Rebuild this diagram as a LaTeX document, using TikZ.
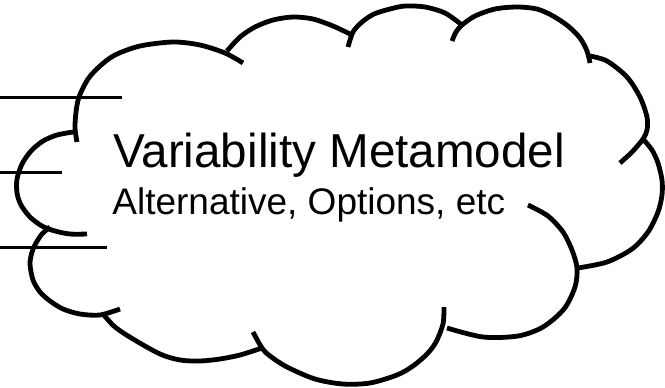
\documentclass[tikz,border=0pt]{standalone}
\usepackage{fontspec}
\setmainfont{Liberation Sans}
\begin{document}
\begin{tikzpicture}[x=0.5pt,y=-0.5pt,
  lobe/.style={line width=2.4pt, line join=round},
  link/.style={line width=1.5pt},
  titletext/.style={anchor=base west, inner sep=0pt, font=\fontsize{23.8}{28}\selectfont},
  subtext/.style={anchor=base west, inner sep=0pt, font=\fontsize{18.5}{22}\selectfont}]
\useasboundingbox (0,0) rectangle (665,387);
% cloud lobes
\draw[lobe] plot[smooth] coordinates {(77,142) (75,128) (76,112) (79,97) (88,79) (100,66) (115,55) (140,46) (173,42) (200,45) (225,53) (243,63)};
\draw[lobe] plot[smooth] coordinates {(227,51) (240,37) (255,27) (273,20) (293,17) (313,19) (333,26) (350,34)};
\draw[lobe] plot[smooth] coordinates {(348,47) (353,32) (362,22) (374,14) (390,9) (405,6) (425,7) (445,13) (462,25)};
\draw[lobe] plot[smooth] coordinates {(452,41) (456,32) (462,25) (475,16) (495,9) (517,7) (537,9) (553,16) (568,26) (580,38) (587,51) (590,63)};
\draw[lobe] plot[smooth] coordinates {(590,56) (607,61) (627,77) (640,97) (647,117) (647,130) (643,139) (632,152) (620,163)};
\draw[lobe] plot[smooth] coordinates {(643,139) (652,150) (658,163) (662,180) (662,195) (658,212) (648,232) (632,249) (607,262) (578,268)};
\draw[lobe] plot[smooth] coordinates {(528,205) (548,216) (563,232) (572,250) (577,268) (575,287) (564,309) (543,327) (518,336) (483,337) (447,328)};
\draw[lobe] plot[smooth] coordinates {(444,307) (443,324) (436,342) (427,354) (413,366) (397,375) (370,383) (343,384) (315,379) (287,367) (270,356) (262,348) (253,332)};
\draw[lobe] plot[smooth] coordinates {(262,348) (240,355) (220,359) (200,361) (180,360) (160,354) (133,339) (115,327) (103,314)};
\draw[lobe] plot[smooth] coordinates {(50,227) (42,234) (36,243) (32,252) (30,264) (33,280) (40,292) (50,301) (63,309) (80,314) (100,315) (120,309)};
\draw[lobe] plot[smooth] coordinates {(73,132) (57,135) (43,141) (31,151) (22,164) (17,179) (17,193) (21,205) (30,217) (42,226) (55,231) (70,234) (87,234)};
% incoming lines
\coordinate (l1a) at (0,97);  \coordinate (l1b) at (122,97);
\coordinate (l2a) at (0,172); \coordinate (l2b) at (62,172);
\coordinate (l3a) at (0,247); \coordinate (l3b) at (107,247);
\draw[link] (l1a) -- (l1b);
\draw[link] (l2a) -- (l2b);
\draw[link] (l3a) -- (l3b);
% texts
\node[titletext] (title) at (113,167) {Variability Metamodel};
\node[subtext] (sub) at (112,214) {Alternative, Options, etc};
\end{tikzpicture}
\end{document}
